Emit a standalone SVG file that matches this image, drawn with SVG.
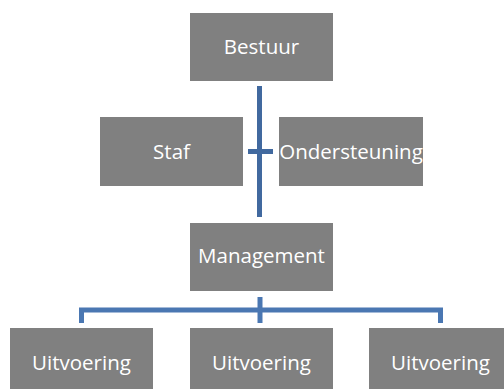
<svg xmlns="http://www.w3.org/2000/svg" width="504" height="389" viewBox="0 0 504 389">
<style>
.box{fill:#808080;}
.lbl{font-family:"Open Sans","Liberation Sans",sans-serif;font-size:20.5px;fill:#ffffff;text-anchor:middle;}
.con{stroke:#41699F;stroke-width:5;fill:none;}
.con2{stroke:#4A77B2;stroke-width:5;fill:none;}
</style>
<rect width="504" height="389" fill="#ffffff"/>
<g id="connectors">
<line class="con" x1="259.5" y1="86" x2="259.5" y2="217"/>
<line class="con" x1="248" y1="151.5" x2="273" y2="151.5"/>
<line class="con2" x1="260" y1="297" x2="260" y2="323"/>
<path class="con2" d="M81.5 323 V310 H440.5 V323"/>
</g>
<g id="bestuur"><rect class="box" x="190" y="13" width="143" height="68"/><text class="lbl" x="261.5" y="54">Bestuur</text></g>
<g id="staf"><rect class="box" x="100" y="117" width="143" height="69"/><text class="lbl" x="171.5" y="159">Staf</text></g>
<g id="ondersteuning"><rect class="box" x="279" y="117" width="144" height="69"/><text class="lbl" x="351" y="159">Ondersteuning</text></g>
<g id="management"><rect class="box" x="190" y="223" width="143" height="68"/><text class="lbl" x="261.5" y="263">Management</text></g>
<g id="uitvoering1"><rect class="box" x="10" y="328" width="143" height="68"/><text class="lbl" x="81.5" y="370">Uitvoering</text></g>
<g id="uitvoering2"><rect class="box" x="190" y="328" width="143" height="68"/><text class="lbl" x="261.5" y="370">Uitvoering</text></g>
<g id="uitvoering3"><rect class="box" x="369" y="328" width="143" height="68"/><text class="lbl" x="440.5" y="370">Uitvoering</text></g>
</svg>
